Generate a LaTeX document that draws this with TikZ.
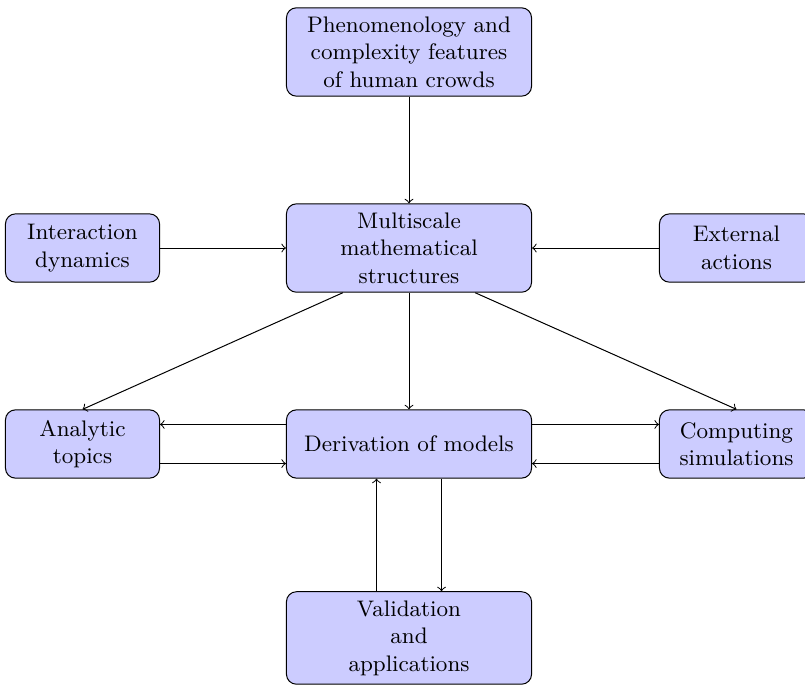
\documentclass[tikz,border=0pt]{standalone}
\tikzset{
  block/.style={rectangle,draw,fill=blue!20,rounded corners,text width=3.2cm,align=center,minimum height=0.96cm,inner xsep=3.5pt,inner ysep=3.5pt,font=\small},
  sideblock/.style={block,text width=1.92cm},
  link/.style={draw,->}
}

\begin{document}
\begin{tikzpicture}
  \useasboundingbox (0,0) rectangle (11.317,-9.644);
  \node[block] (pheno) at (5.75,-0.731) {Phenomenology and\\complexity features\\of human crowds};
  \node[block] (multi) at (5.75,-3.487) {Multiscale\\mathematical\\structures};
  \node[sideblock] (inter) at (1.160,-3.487) {Interaction\\dynamics};
  \node[sideblock] (ext) at (10.354,-3.487) {External\\actions};
  \node[sideblock] (analytic) at (1.160,-6.242) {Analytic\\topics};
  \node[block] (deriv) at (5.75,-6.242) {Derivation of models};
  \node[sideblock] (comp) at (10.354,-6.242) {Computing\\simulations};
  \node[block] (valid) at (5.75,-8.969) {Validation\\and\\applications};
  \draw[link] (pheno) -- (multi);
  \draw[link] (inter) -- (multi);
  \draw[link] (ext) -- (multi);
  \draw[link] ([xshift=-0.93cm]multi.south) -- (analytic.north);
  \draw[link] (multi) -- (deriv);
  \draw[link] ([xshift=0.93cm]multi.south) -- (comp.north);
  \draw[link] ([yshift=0.275cm]deriv.west) -- ([yshift=0.275cm]analytic.east);
  \draw[link] ([yshift=-0.275cm]analytic.east) -- ([yshift=-0.275cm]deriv.west);
  \draw[link] ([yshift=0.275cm]deriv.east) -- ([yshift=0.275cm]comp.west);
  \draw[link] ([yshift=-0.275cm]comp.west) -- ([yshift=-0.275cm]deriv.east);
  \draw[link] ([xshift=-0.457cm]valid.north) -- ([xshift=-0.457cm]deriv.south);
  \draw[link] ([xshift=0.457cm]deriv.south) -- ([xshift=0.457cm]valid.north);
\end{tikzpicture}
\end{document}
